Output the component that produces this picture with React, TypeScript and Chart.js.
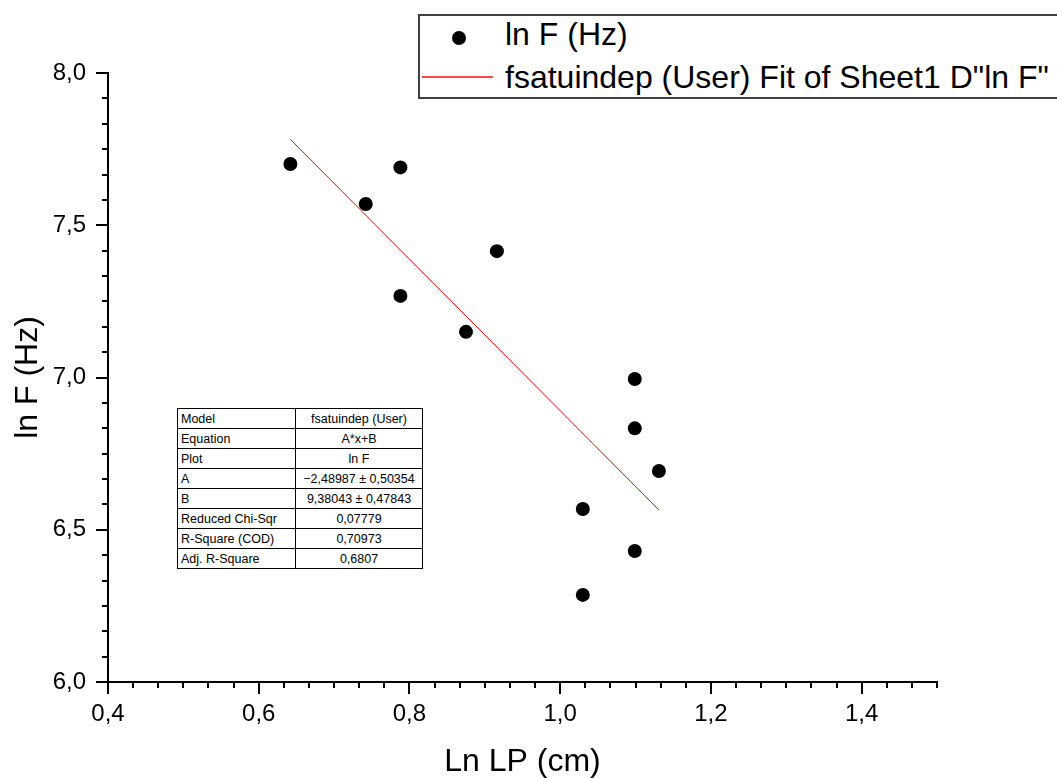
import React, { useEffect, useRef } from "react";
import { Chart, registerables } from "chart.js";

Chart.register(...registerables);

// ---- data ----
const lnLP = [0.642, 0.742, 0.788, 0.788, 0.875, 0.916, 1.099, 1.099, 1.131, 1.03, 1.099, 1.03];
const lnF = [7.701, 7.57, 7.69, 7.268, 7.15, 7.415, 6.995, 6.833, 6.693, 6.568, 6.43, 6.286];
const fitX = [0.642, 1.131];
const fitY = [7.782, 6.565];
const xMajorTicks = [0.4, 0.6, 0.8, 1.0, 1.2, 1.4];
const yMajorTicks = [6.0, 6.5, 7.0, 7.5, 8.0];
const xRange = [0.4, 1.5];
const yRange = [6.0, 8.0];
const minorPerMajor = 5;
const seriesLabel = "ln F (Hz)";
const fitLabel = 'fsatuindep (User) Fit of Sheet1 D"ln F"';
const xTitle = "Ln LP (cm)";
const yTitle = "ln F (Hz)";
const tableNames = ["Model", "Equation", "Plot", "A", "B", "Reduced Chi-Sqr", "R-Square (COD)", "Adj. R-Square"];
const tableValues = ["fsatuindep (User)", "A*x+B", "ln F", "\u22122,48987 \u00b1 0,50354", "9,38043 \u00b1 0,47843", "0,07779", "0,70973", "0,6807"];

const FONT = "'Liberation Sans', Arial, sans-serif";
const fmt = (v: number) => v.toFixed(1).replace(".", ",");

const minorTicksPlugin = {
  id: "minorTicks",
  afterDraw(chart: any) {
    const ctx = chart.ctx;
    const xs = chart.scales.x;
    const ys = chart.scales.y;
    const area = chart.chartArea;
    ctx.save();
    ctx.strokeStyle = "#000";
    ctx.lineWidth = 2;
    const xStep = (xMajorTicks[1] - xMajorTicks[0]) / (minorPerMajor + 1);
    for (let i = 0; ; i++) {
      const v = xs.min + i * xStep;
      if (v > xs.max + 1e-9) break;
      if (i % (minorPerMajor + 1) === 0) continue;
      const px = Math.round(xs.getPixelForValue(v));
      ctx.beginPath();
      ctx.moveTo(px, area.bottom);
      ctx.lineTo(px, area.bottom + 6);
      ctx.stroke();
    }
    const yStep = (yMajorTicks[1] - yMajorTicks[0]) / (minorPerMajor + 1);
    for (let i = 0; ; i++) {
      const v = ys.min + i * yStep;
      if (v > ys.max + 1e-9) break;
      if (i % (minorPerMajor + 1) === 0) continue;
      const py = Math.round(ys.getPixelForValue(v));
      ctx.beginPath();
      ctx.moveTo(area.left, py);
      ctx.lineTo(area.left - 6, py);
      ctx.stroke();
    }
    ctx.restore();
  },
};

export default function App() {
  const ref = useRef<HTMLCanvasElement | null>(null);

  useEffect(() => {
    if (!ref.current) return;
    const points = lnLP.map((x, i) => ({ x, y: lnF[i] }));
    const fit = fitX.map((x, i) => ({ x, y: fitY[i] }));
    const chart = new Chart(ref.current, {
      type: "scatter",
      data: {
        datasets: [
          {
            label: seriesLabel,
            data: points,
            backgroundColor: "#000",
            borderColor: "#000",
            pointRadius: 7,
            pointBorderWidth: 0,
            showLine: false,
            order: 0,
          },
          {
            label: fitLabel,
            data: fit,
            borderColor: "#ff0000",
            borderWidth: 1,
            pointRadius: 0,
            showLine: true,
            order: 1,
          },
        ],
      },
      options: {
        responsive: false,
        maintainAspectRatio: false,
        animation: false,
        layout: { padding: { left: 0, top: 73, right: 120, bottom: 0 } },
        plugins: { legend: { display: false }, tooltip: { enabled: false } },
        scales: {
          x: {
            type: "linear",
            min: xRange[0],
            max: xRange[1],
            afterBuildTicks: (s: any) => {
              s.ticks = xMajorTicks.map((v) => ({ value: v }));
            },
            afterFit: (s: any) => {
              s.height = 96;
            },
            border: { display: true, color: "#000", width: 2 },
            grid: { display: true, drawOnChartArea: false, drawTicks: true, tickLength: 12, color: "#000", lineWidth: 2 },
            ticks: {
              color: "#000",
              padding: 6,
              font: { family: FONT, size: 24 },
              callback: (v: any) => fmt(Number(v)),
              maxRotation: 0,
              autoSkip: false,
            },
            title: {
              display: true,
              text: xTitle,
              color: "#000",
              font: { family: FONT, size: 32, lineHeight: 1 },
              padding: { top: 0, bottom: 0 },
            },
          },
          y: {
            type: "linear",
            min: yRange[0],
            max: yRange[1],
            afterBuildTicks: (s: any) => {
              s.ticks = yMajorTicks.map((v) => ({ value: v }));
            },
            afterFit: (s: any) => {
              s.width = 108;
            },
            border: { display: true, color: "#000", width: 2 },
            grid: { display: true, drawOnChartArea: false, drawTicks: true, tickLength: 12, color: "#000", lineWidth: 2 },
            ticks: {
              color: "#000",
              padding: 10,
              font: { family: FONT, size: 24 },
              callback: (v: any) => fmt(Number(v)),
              autoSkip: false,
            },
            title: {
              display: true,
              text: yTitle,
              color: "#000",
              font: { family: FONT, size: 32, lineHeight: 1 },
              padding: { top: 12, bottom: 0 },
            },
          },
        },
      },
      plugins: [minorTicksPlugin],
    });
    return () => chart.destroy();
  }, []);

  return (
    <div
      style={{
        position: "fixed",
        left: 0,
        top: 0,
        width: 1057,
        height: 778,
        overflow: "hidden",
        background: "#fff",
        fontFamily: FONT,
      }}
    >
      <canvas ref={ref} width={1057} height={778} style={{ display: "block", width: 1057, height: 778 }} />
      {/* legend */}
      <div
        style={{
          position: "absolute",
          left: 418,
          top: 14,
          width: 700,
          height: 85,
          border: "2px solid #404040",
          boxSizing: "border-box",
          background: "#fff",
        }}
      />
      <div style={{ position: "absolute", left: 452, top: 31, width: 14, height: 14, borderRadius: "50%", background: "#000" }} />
      <div style={{ position: "absolute", left: 422, top: 76, width: 71, height: 2, background: "#ff4848" }} />
      <div style={{ position: "absolute", left: 505, top: 18, fontSize: 32, lineHeight: "32px", whiteSpace: "nowrap", color: "#000" }}>
        {seriesLabel}
      </div>
      <div style={{ position: "absolute", left: 505, top: 61, fontSize: 32, lineHeight: "32px", whiteSpace: "nowrap", color: "#000" }}>
        {fitLabel}
      </div>
      {/* fit results table */}
      <table
        style={{
          position: "absolute",
          left: 177,
          top: 408,
          width: 246,
          height: 160,
          borderCollapse: "collapse",
          fontSize: 12.5,
          background: "#fff",
          tableLayout: "fixed",
        }}
      >
        <tbody>
          {tableNames.map((n, i) => (
            <tr key={n} style={{ height: 20 }}>
              <td style={{ border: "1px solid #000", padding: "0 3px", width: 111, whiteSpace: "nowrap", lineHeight: "18px" }}>{n}</td>
              <td style={{ border: "1px solid #000", padding: 0, textAlign: "center", whiteSpace: "nowrap", lineHeight: "18px" }}>
                {tableValues[i]}
              </td>
            </tr>
          ))}
        </tbody>
      </table>
    </div>
  );
}
